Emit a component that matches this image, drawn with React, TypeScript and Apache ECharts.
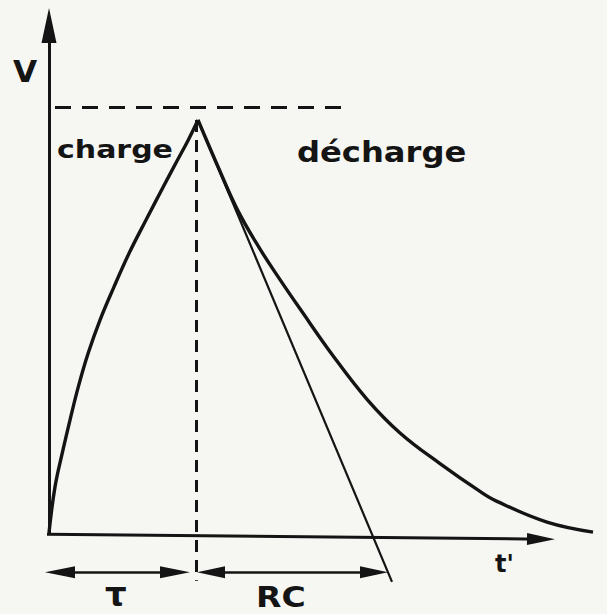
import React, { useEffect, useRef } from "react";
import * as echarts from "echarts";

// (x: time units, y: voltage units; peak at V = 10)
const chargeCurve: number[][] = [
  [0, 0.05], [0.12, 1.16], [0.274, 2.02], [0.42, 2.77], [0.586, 3.57],
  [0.786, 4.39], [1.02, 5.18], [1.3, 5.98], [1.606, 6.8], [1.94, 7.59],
  [2.286, 8.39], [2.554, 9.0], [2.786, 9.52], [2.98, 10],
];
const dischargeCurve: number[][] = [
  [2.98, 10], [3.4, 8.82], [3.78, 7.81], [4.2, 6.93], [4.6, 6.19],
  [5.02, 5.45], [5.68, 4.32], [6.36, 3.27], [7.02, 2.46], [7.82, 1.72],
  [8.62, 1.05], [8.96, 0.81], [9.96, 0.31], [10.88, 0.07],
];
const tangentLine: number[][] = [[2.98, 10], [6.86, -1.13]];
const peakLevel = 10.3;
const peakLevelSpan = [0.12, 5.92];
const peakTime = 2.94;
const peakTimeSpan = [10, -1.1];
const yAxisLine = [[0, 0], [0, 12.28]];
const xAxisLine = [[-0.04, 0.02], [9.84, -0.1]];
const tauArrow = [[0.22, -0.9], [2.52, -0.9]];
const rcArrow = [[3.24, -0.9], [6.5, -0.9]];

const labels = [
  { text: "V", x: 13, y: 71.5, size: 30, sx: 1.04 },
  { text: "charge", x: 57, y: 149.6, size: 24, sx: 1.25 },
  { text: "décharge", x: 297, y: 152, size: 29, sx: 1.11 },
  { text: "τ", x: 105, y: 594, size: 34, sx: 1.0 },
  { text: "RC", x: 256, y: 597, size: 28, sx: 1.18 },
  { text: "t'", x: 495, y: 563.6, size: 24, sx: 1.0 },
];

const INK = "#141414";
const BG = "#f6f6f3";

export default function App() {
  const ref = useRef<HTMLDivElement>(null);
  useEffect(() => {
    document.body.style.margin = "0";
    document.body.style.background = BG;
    const chart = echarts.init(ref.current!, null, { renderer: "svg" });
    const seg = (a: number[], b: number[], style: any, s0: any, s1: any) => [
      { coord: a, lineStyle: style, ...s0 },
      { coord: b, ...s1 },
    ];
    const none = { symbol: "none" };
    const tri = (w: number, h: number) => ({ symbol: "triangle", symbolSize: [w, h] });
    const solid = { color: INK, width: 3, type: "solid" };
    chart.setOption({
      animation: false,
      backgroundColor: BG,
      grid: { left: 0, top: 0, right: 0, bottom: 0, containLabel: false },
      xAxis: { type: "value", min: -0.98, max: 11.16, show: false },
      yAxis: { type: "value", min: -1.9036, max: 12.8916, show: false },
      series: [
        {
          type: "line",
          name: "charge",
          data: chargeCurve,
          smooth: 0.4,
          clip: false,
          showSymbol: false,
          silent: true,
          lineStyle: { color: INK, width: 3.4 },
          markLine: {
            silent: true,
            animation: false,
            symbol: ["none", "none"],
            label: { show: false },
            emphasis: { disabled: true },
            data: [
              seg(yAxisLine[0], yAxisLine[1], solid, none, tri(15, 35)),
              seg(xAxisLine[0], xAxisLine[1], solid, none, tri(12, 28)),
              seg(tauArrow[0], tauArrow[1], { color: INK, width: 2.5, type: "solid" }, tri(12, 30), tri(12, 30)),
              seg(rcArrow[0], rcArrow[1], { color: INK, width: 2.5, type: "solid" }, tri(12, 28), tri(12, 28)),
              seg([peakLevelSpan[0], peakLevel], [peakLevelSpan[1], peakLevel], { color: INK, width: 3, type: [16, 11] }, none, none),
              seg([peakTime, peakTimeSpan[0]], [peakTime, peakTimeSpan[1]], { color: INK, width: 3, type: [12, 8] }, none, none),
              seg(tangentLine[0], tangentLine[1], { color: INK, width: 2.2, type: "solid" }, none, none),
            ],
          },
        },
        {
          type: "line",
          name: "décharge",
          data: dischargeCurve,
          smooth: 0.4,
          clip: false,
          showSymbol: false,
          silent: true,
          lineStyle: { color: INK, width: 3.4 },
        },
      ],
      graphic: labels.map((l) => ({
        type: "text",
        x: l.x,
        y: l.y,
        scaleX: l.sx,
        silent: true,
        style: {
          text: l.text,
          fill: INK,
          font: `bold ${l.size}px "DejaVu Sans"`,
          align: "left",
          verticalAlign: "middle",
        },
      })),
    });
    return () => chart.dispose();
  }, []);
  return (
    <div
      ref={ref}
      style={{ position: "fixed", left: 0, top: 0, width: 607, height: 614, background: BG }}
    />
  );
}
